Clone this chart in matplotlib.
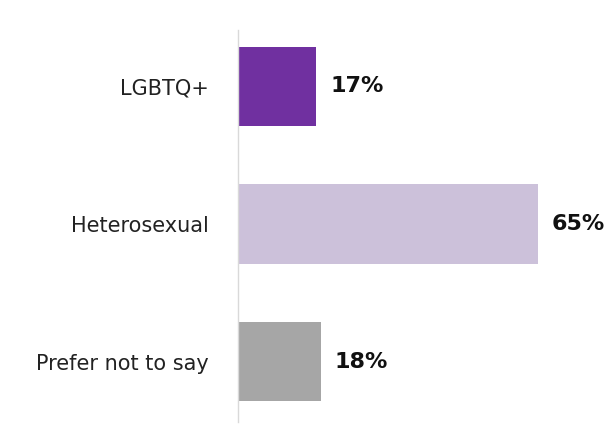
import matplotlib
matplotlib.use("Agg")
import matplotlib.pyplot as plt

categories = ["LGBTQ+", "Heterosexual", "Prefer not to say"]
values = [17, 65, 18]
colors = ["#7030A0", "#CCC1DA", "#A6A6A6"]

plt.rcParams['font.family'] = ['DejaVu Sans']

fig = plt.figure(figsize=(6.10, 4.32), dpi=100)
ax = fig.add_axes([238/610, 1 - 422/432, 369/610, 392/432])

ypos = list(range(len(categories)))
ax.barh(ypos, values, height=0.575, color=colors)
ax.set_xlim(0, 80)
ax.set_ylim(1 + 198/137.7, 1 - 194/137.7)

ax.set_yticks(ypos)
ax.set_yticklabels(categories, fontsize=15, color="#222222")
ax.tick_params(axis='y', length=0, pad=21)
ax.set_xticks([])
for s in ["top", "right", "bottom"]:
    ax.spines[s].set_visible(False)
ax.spines["left"].set_color("#D9D9D9")
ax.spines["left"].set_linewidth(1)

for y, v in zip(ypos, values):
    ax.annotate(f"{v}%", xy=(v, y), xytext=(10, 0), textcoords="offset points",
                va="center", ha="left", fontsize=16, fontweight="bold", color="#111111")

fig.savefig("out.png", dpi=100)
